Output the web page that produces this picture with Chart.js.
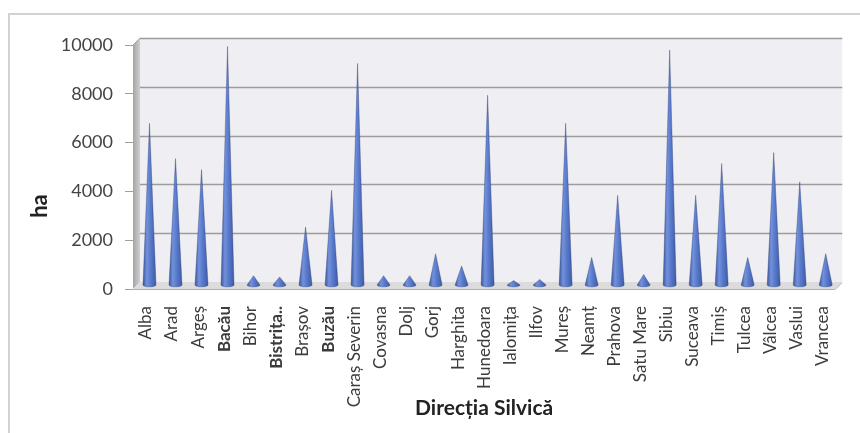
<!DOCTYPE html>
<html>
<head>
<meta charset="utf-8">
<script src="https://cdn.jsdelivr.net/npm/chart.js@4.4.1/dist/chart.umd.min.js"></script>
<style>
  html, body { margin: 0; padding: 0; background: #ffffff; }
  #wrap { width: 860px; height: 433px; }
</style>
</head>
<body>
<div id="wrap"><canvas id="c" width="860" height="433"></canvas></div>
<script>
// Suprafața (ha) pe direcții silvice
const categories = ['Alba', 'Arad', 'Argeș', 'Bacău', 'Bihor', 'Bistrița..', 'Brașov', 'Buzău',
  'Caraș Severin', 'Covasna', 'Dolj', 'Gorj', 'Harghita', 'Hunedoara', 'Ialomița', 'Ilfov',
  'Mureș', 'Neamț', 'Prahova', 'Satu Mare', 'Sibiu', 'Suceava', 'Timiș', 'Tulcea', 'Vâlcea',
  'Vaslui', 'Vrancea'];
const suprafata = [6650, 5200, 4750, 9800, 400, 350, 2400, 3900,
  9100, 400, 400, 1300, 800, 7800, 200, 250,
  6650, 1150, 3700, 450, 9650, 3700, 5000, 1150, 5450,
  4250, 1300];
const yTicks = [0, 2000, 4000, 6000, 8000, 10000];
const boldLabels = ['Bacău', 'Bistrița..', 'Buzău'];
const yTitle = 'ha';
const xTitle = 'Direcția Silvică';

const DEPTH = 7;   // offset of the back wall (px, right and up)

// Frame, walls and floor of the 3D plot box
const framePlugin = {
  id: 'frame3d',
  beforeDraw(chart) {
    const ctx = chart.ctx;
    ctx.save();
    ctx.strokeStyle = '#d2d2d2';
    ctx.lineWidth = 2;
    ctx.beginPath();
    ctx.moveTo(9, 440);
    ctx.lineTo(9, 14);
    ctx.lineTo(870, 14);
    ctx.stroke();
    ctx.restore();
  },
  beforeDatasetsDraw(chart) {
    const ctx = chart.ctx;
    const {left, right, top, bottom} = chart.chartArea;
    const y = chart.scales.y;
    const d = DEPTH;
    ctx.save();
    // back wall
    ctx.fillStyle = '#efeff3';
    ctx.fillRect(left + d, top - d, right - left, bottom - top);
    // side wall
    const sg = ctx.createLinearGradient(left, 0, left + d, 0);
    sg.addColorStop(0, '#a4a4a4');
    sg.addColorStop(1, '#cfcfcf');
    ctx.fillStyle = sg;
    ctx.beginPath();
    ctx.moveTo(left, top);
    ctx.lineTo(left + d, top - d);
    ctx.lineTo(left + d, bottom - d);
    ctx.lineTo(left, bottom);
    ctx.closePath();
    ctx.fill();
    // floor
    ctx.fillStyle = '#dcdcdc';
    ctx.beginPath();
    ctx.moveTo(left, bottom);
    ctx.lineTo(right, bottom);
    ctx.lineTo(right + d, bottom - d);
    ctx.lineTo(left + d, bottom - d);
    ctx.closePath();
    ctx.fill();
    ctx.strokeStyle = '#b0b0b0';
    ctx.lineWidth = 1;
    ctx.beginPath();
    ctx.moveTo(left, bottom + 0.5);
    ctx.lineTo(right, bottom + 0.5);
    ctx.lineTo(right + d, bottom - d + 0.5);
    ctx.stroke();
    // gridlines on the back wall
    ctx.strokeStyle = '#9c9c9c';
    ctx.lineWidth = 1.4;
    yTicks.forEach(v => {
      if (v === 0) return;
      const py = Math.round(y.getPixelForValue(v) - d) + 0.5;
      ctx.beginPath();
      ctx.moveTo(left + d, py);
      ctx.lineTo(right + d, py);
      ctx.stroke();
    });
    // top-left corner edge
    ctx.strokeStyle = '#a8a8a8';
    ctx.lineWidth = 1;
    ctx.beginPath();
    ctx.moveTo(left, top);
    ctx.lineTo(left + d, top - d);
    ctx.stroke();
    ctx.restore();
  },
  afterDatasetsDraw(chart) {
    // cones standing at mid-depth of the box
    const ctx = chart.ctx;
    const meta = chart.getDatasetMeta(0);
    const dm = DEPTH / 2;
    ctx.save();
    meta.data.forEach(el => {
      const p = el.getProps(['x', 'y', 'base', 'width'], true);
      const cx = p.x + dm;
      const apex = p.y - dm;
      const by = p.base - dm;
      const rx = p.width / 2;
      const ry = rx * 0.28;
      const g = ctx.createLinearGradient(cx - rx, 0, cx + rx, 0);
      g.addColorStop(0, '#3a589f');
      g.addColorStop(0.3, '#7392db');
      g.addColorStop(0.55, '#5b7cce');
      g.addColorStop(1, '#3d5ba7');
      ctx.fillStyle = g;
      ctx.beginPath();
      ctx.moveTo(cx, apex);
      ctx.lineTo(cx + rx, by);
      ctx.ellipse(cx, by, rx, ry, 0, 0, Math.PI, false);
      ctx.closePath();
      ctx.fill();
      ctx.strokeStyle = 'rgba(40, 52, 110, 0.45)';
      ctx.lineWidth = 0.8;
      ctx.stroke();
    });
    ctx.restore();
    // y axis title
    ctx.save();
    ctx.fillStyle = '#222222';
    ctx.font = 'bold 22px Lato, "Liberation Sans", sans-serif';
    ctx.textAlign = 'center';
    ctx.textBaseline = 'middle';
    ctx.translate(40, 206);
    ctx.rotate(-Math.PI / 2);
    ctx.fillText(yTitle, 0, 0);
    ctx.restore();
  }
};

new Chart(document.getElementById('c'), {
  type: 'bar',
  data: {
    labels: categories,
    datasets: [{
      label: 'ha',
      data: suprafata,
      backgroundColor: 'rgba(0,0,0,0)',
      borderWidth: 0,
      categoryPercentage: 1.0,
      barPercentage: 0.5
    }]
  },
  options: {
    responsive: false,
    animation: false,
    events: [],
    layout: { padding: { left: 0, top: 45, right: 20, bottom: 0 } },
    plugins: { legend: { display: false }, tooltip: { enabled: false } },
    scales: {
      x: {
        afterFit(s) { s.height = 144; },
        grid: { display: false, drawTicks: false },
        border: { display: false },
        ticks: {
          autoSkip: false,
          minRotation: 90,
          maxRotation: 90,
          padding: 17,
          color: '#3c3c3c',
          font: ctx => ({
            family: 'Lato, "Liberation Sans", sans-serif',
            size: 17,
            weight: boldLabels.includes(categories[ctx.index]) ? 'bold' : 'normal'
          })
        },
        title: {
          display: true,
          text: xTitle,
          color: '#222222',
          font: { family: 'Lato, "Liberation Sans", sans-serif', size: 21, weight: 'bold' },
          padding: { top: 0, bottom: 12 }
        }
      },
      y: {
        min: 0,
        max: 10000,
        afterFit(s) { s.width = 133; },
        afterBuildTicks(s) { s.ticks = yTicks.map(v => ({ value: v })); },
        grid: { drawOnChartArea: false, drawTicks: true, tickLength: 8, color: '#a0a0a0' },
        border: { display: false },
        ticks: {
          padding: 12,
          color: '#444444',
          callback: v => String(v),
          font: { family: 'Lato, "Liberation Sans", sans-serif', size: 18 }
        }
      }
    }
  },
  plugins: [framePlugin]
});
</script>
</body>
</html>
